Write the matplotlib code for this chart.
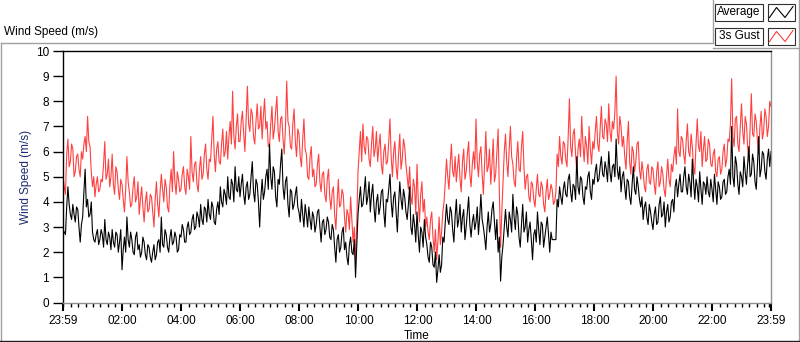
import numpy as np
import matplotlib
matplotlib.use('Agg')
import matplotlib.pyplot as plt
from matplotlib.lines import Line2D
from matplotlib.patches import Rectangle

#----------------------------------------------------------------------
#   Wind speed over one day, values every 2.5 minutes
#----------------------------------------------------------------------

minutes = np.arange(0, 1440.1, 2.5)   # minutes after 23:59

average = [
    2.9, 2.8, 2.7, 3.8, 4.6, 3.9, 3.5, 3.3, 3.9, 3.5, 3.2, 3.8, 3.7, 3.0, 2.4, 3.1, 3.4, 4.4, 5.3, 3.8, 4.1, 3.4, 3.5, 4.0,
    2.8, 2.5, 2.4, 2.7, 2.9, 2.3, 2.5, 2.9, 2.7, 2.2, 3.3, 2.5, 2.3, 2.8, 2.6, 2.1, 2.9, 2.4, 2.2, 2.8, 2.7, 2.0, 2.4, 2.9,
    1.3, 2.1, 2.6, 2.0, 3.4, 2.5, 2.2, 2.8, 2.5, 2.0, 1.9, 2.6, 2.8, 2.1, 2.3, 1.8, 2.0, 2.6, 2.4, 1.9, 1.7, 2.3, 2.2, 1.8,
    1.6, 2.0, 2.3, 1.7, 1.9, 2.4, 2.5, 2.0, 3.4, 2.3, 2.2, 2.9, 2.7, 2.2, 2.0, 2.6, 2.9, 2.3, 2.4, 2.8, 2.6, 2.0, 2.1, 2.7,
    2.6, 3.1, 2.9, 2.4, 2.4, 3.0, 3.2, 2.7, 2.8, 3.3, 3.5, 2.9, 3.0, 3.6, 3.4, 3.0, 3.9, 3.3, 3.1, 3.8, 3.7, 3.2, 4.1, 3.5,
    3.3, 4.0, 3.8, 3.2, 3.1, 3.7, 4.0, 3.5, 4.6, 4.0, 3.8, 4.5, 4.3, 3.9, 5.0, 4.2, 4.1, 4.9, 4.7, 4.0, 5.4, 4.5, 4.4, 5.0,
    4.2, 4.7, 5.1, 4.3, 3.9, 4.6, 4.8, 4.1, 4.3, 5.0, 5.6, 4.4, 4.0, 4.9, 4.7, 4.0, 3.0, 4.2, 4.9, 4.1, 4.4, 5.0, 5.3, 4.5,
    6.3, 5.0, 4.5, 5.4, 5.2, 4.2, 3.8, 4.9, 4.7, 5.5, 6.1, 4.6, 4.1, 4.8, 5.0, 3.9, 3.4, 4.5, 4.4, 3.7, 3.9, 4.3, 4.6, 3.8,
    3.6, 3.2, 4.1, 3.5, 3.0, 3.9, 3.5, 3.0, 3.8, 3.3, 2.9, 3.6, 3.4, 2.8, 3.1, 3.6, 3.7, 3.0, 2.4, 3.2, 3.3, 2.7, 2.9, 3.4,
    3.2, 2.6, 2.5, 3.1, 2.9, 2.2, 1.6, 2.5, 2.7, 2.0, 2.2, 2.8, 3.0, 2.1, 2.4, 1.8, 1.5, 2.3, 2.6, 2.0, 1.9, 2.5, 1.0, 2.2,
    3.5, 4.1, 4.6, 3.8, 3.9, 4.4, 5.0, 3.9, 4.2, 4.8, 3.6, 4.3, 4.7, 3.8, 3.2, 4.0, 4.3, 3.5, 3.8, 4.4, 4.5, 3.6, 3.0, 4.1,
    4.0, 4.5, 5.1, 4.0, 3.4, 4.2, 4.4, 3.6, 2.8, 3.9, 4.8, 4.1, 3.7, 4.5, 4.2, 3.6, 3.3, 3.9, 4.6, 3.0, 2.7, 3.5, 3.1, 2.4,
    3.6, 2.7, 2.0, 3.0, 2.8, 2.2, 3.3, 2.6, 2.3, 1.8, 1.6, 2.4, 2.2, 1.5, 1.4, 2.0, 0.8, 1.3, 1.9, 1.2, 1.5, 2.6, 2.4, 3.2,
    3.9, 3.3, 3.1, 3.8, 3.6, 2.9, 2.4, 3.4, 4.1, 3.0, 3.3, 3.9, 2.8, 3.4, 3.7, 2.5, 3.0, 3.6, 4.2, 3.1, 2.6, 3.2, 3.5, 2.9,
    3.2, 3.8, 2.7, 3.4, 4.3, 3.3, 3.0, 2.6, 2.1, 3.0, 3.6, 2.8, 3.1, 3.7, 4.0, 3.2, 2.5, 3.3, 2.0, 2.6, 0.85, 1.8, 2.3, 3.0,
    3.7, 3.0, 2.6, 3.6, 3.3, 2.8, 4.3, 3.4, 2.9, 3.8, 3.5, 2.6, 2.2, 3.1, 3.9, 2.8, 3.0, 3.6, 2.4, 2.9, 3.2, 2.5, 1.7, 2.7,
    2.9, 2.4, 3.6, 2.9, 2.3, 3.2, 3.1, 2.2, 2.6, 3.0, 3.4, 2.7, 2.0, 2.8, 2.5, 2.5, 2.5, 2.5, 4.1, 3.8, 4.6, 4.2, 3.9, 4.5,
    4.8, 4.3, 4.2, 4.9, 5.1, 4.4, 4.0, 4.7, 4.6, 4.1, 5.8, 4.6, 4.3, 5.0, 4.9, 4.2, 3.9, 4.6, 4.5, 5.0, 5.2, 4.4, 4.1, 4.9,
    4.7, 5.2, 5.5, 4.8, 4.9, 5.4, 5.8, 5.1, 5.0, 5.6, 5.3, 4.8, 6.0, 5.2, 4.8, 5.4, 5.5, 5.0, 6.5, 5.3, 4.9, 5.4, 4.4, 5.0,
    5.2, 4.6, 4.1, 4.9, 4.8, 4.2, 3.9, 4.7, 5.4, 4.5, 4.3, 5.0, 4.6, 4.1, 3.8, 4.2, 3.3, 3.8, 4.0, 3.4, 3.1, 3.9, 3.6, 3.2,
    2.9, 3.5, 3.8, 3.1, 3.2, 3.9, 4.2, 3.4, 3.5, 4.0, 3.0, 3.6, 3.9, 3.2, 3.4, 4.0, 4.1, 3.6, 4.6, 4.9, 4.2, 4.7, 5.1, 4.4,
    4.4, 5.0, 5.4, 4.6, 4.3, 5.1, 4.8, 4.2, 5.7, 4.8, 4.1, 4.9, 4.6, 4.0, 5.2, 4.5, 3.9, 4.8, 4.7, 4.3, 5.0, 4.4, 4.2, 4.9,
    4.5, 4.0, 5.1, 4.5, 3.9, 4.8, 4.6, 4.1, 4.2, 4.8, 4.9, 4.3, 4.4, 5.0, 5.3, 4.7, 7.0, 5.0, 4.6, 5.8, 5.5, 4.7, 4.3, 5.2,
    5.0, 4.6, 5.8, 5.2, 4.7, 5.5, 6.2, 5.0, 5.1, 5.9, 5.6, 4.8, 4.5, 5.5, 6.6, 5.0, 5.3, 6.0, 5.9, 5.2, 4.9, 5.7, 6.1, 5.4,
    6.0,
]

gust = [
    5.0, 4.6, 4.3, 5.9, 6.5, 5.4, 5.6, 6.3, 6.1, 5.0, 5.2, 5.8, 5.9, 5.3, 5.0, 6.0, 5.7, 6.3, 6.6, 6.0, 7.4, 6.4, 6.2, 5.2,
    4.6, 5.0, 4.2, 4.7, 5.0, 4.4, 4.5, 4.9, 4.8, 5.5, 6.4, 4.9, 5.1, 5.7, 4.6, 5.0, 5.9, 4.7, 4.3, 5.4, 5.2, 4.5, 4.1, 4.9,
    4.7, 4.1, 3.6, 4.5, 5.8, 4.8, 4.4, 3.8, 3.9, 4.6, 5.0, 4.0, 4.2, 4.8, 3.5, 4.1, 4.6, 3.8, 3.2, 4.0, 4.4, 3.6, 3.7, 4.3,
    4.2, 3.6, 3.0, 4.1, 4.8, 3.9, 3.4, 4.4, 5.1, 4.5, 4.0, 4.9, 4.6, 3.8, 3.6, 4.7, 5.3, 4.4, 6.0, 4.8, 4.3, 5.2, 4.9, 4.4,
    4.5, 5.1, 5.4, 4.6, 4.3, 5.3, 5.0, 4.5, 6.6, 5.2, 4.8, 5.5, 5.6, 4.7, 4.4, 5.3, 5.8, 4.9, 5.1, 5.9, 6.3, 5.3, 4.9, 5.7,
    5.6, 6.5, 7.4, 5.9, 5.2, 6.1, 6.4, 5.6, 5.5, 6.3, 6.9, 5.8, 6.0, 6.8, 5.7, 6.6, 7.2, 6.3, 8.4, 6.6, 6.1, 7.0, 7.5, 6.4,
    6.4, 7.2, 7.6, 6.7, 6.0, 7.3, 8.6, 7.1, 6.8, 7.7, 7.5, 6.6, 6.3, 7.2, 7.9, 6.9, 7.0, 7.8, 6.5, 7.4, 8.1, 6.9, 7.2, 6.2,
    6.2, 7.1, 7.8, 6.5, 6.9, 7.6, 8.2, 6.8, 6.4, 7.3, 7.4, 6.5, 5.9, 7.0, 8.8, 7.2, 7.0, 6.2, 6.1, 7.1, 7.7, 6.4, 5.8, 6.9,
    6.7, 5.8, 5.4, 6.5, 7.3, 6.1, 5.9, 5.0, 4.9, 5.8, 6.2, 5.0, 5.3, 4.6, 4.7, 5.5, 5.9, 4.8, 4.4, 5.1, 5.2, 4.3, 4.0, 4.9,
    5.3, 4.2, 3.7, 4.4, 4.6, 3.5, 2.9, 4.0, 4.9, 3.8, 3.9, 4.5, 4.3, 3.4, 2.8, 3.7, 3.5, 2.9, 4.2, 3.3, 2.4, 3.0, 1.7, 3.2,
    5.2, 6.0, 6.8, 5.6, 7.1, 6.2, 5.9, 6.6, 6.5, 5.7, 5.4, 6.3, 7.0, 5.8, 6.1, 6.8, 5.6, 6.2, 6.7, 5.5, 5.1, 6.0, 6.3, 5.5,
    5.6, 6.4, 7.3, 5.8, 5.0, 6.0, 6.4, 5.4, 4.9, 5.9, 6.7, 5.3, 5.7, 6.5, 6.2, 5.5, 5.0, 4.5, 5.4, 4.2, 3.9, 4.9, 4.6, 3.5,
    5.5, 4.1, 3.2, 4.3, 4.8, 3.6, 4.1, 3.0, 3.4, 2.8, 2.5, 3.3, 3.6, 2.6, 2.0, 2.9, 1.7, 2.4, 3.4, 2.3, 2.8, 3.6, 4.0, 4.8,
    5.7, 5.0, 4.5, 5.5, 6.3, 5.2, 5.0, 5.8, 4.8, 5.4, 5.9, 4.9, 4.4, 5.6, 6.1, 4.9, 5.2, 5.9, 6.4, 5.1, 4.6, 5.5, 6.0, 5.3,
    7.3, 5.6, 5.0, 5.9, 6.2, 5.1, 4.3, 5.6, 6.8, 5.2, 5.4, 6.1, 4.7, 5.5, 6.5, 4.8, 5.1, 6.0, 6.9, 4.4, 2.2, 3.6, 4.8, 6.0,
    6.7, 5.6, 5.0, 6.1, 7.0, 5.8, 5.5, 4.8, 4.6, 5.7, 6.4, 5.3, 5.2, 6.2, 6.8, 5.4, 4.5, 5.0, 5.1, 4.2, 4.0, 4.8, 4.7, 4.1,
    3.8, 4.5, 5.1, 4.3, 4.2, 4.8, 4.6, 3.9, 3.6, 4.4, 4.9, 4.1, 4.3, 4.7, 4.5, 3.9, 4.0, 4.4, 5.9, 5.4, 6.6, 5.8, 5.5, 6.4,
    6.3, 5.7, 5.4, 6.6, 8.1, 6.2, 5.8, 6.7, 6.9, 5.9, 5.2, 6.1, 6.5, 5.8, 7.4, 6.3, 5.6, 6.6, 6.2, 5.5, 7.0, 6.1, 5.5, 6.4,
    6.1, 6.8, 7.4, 6.3, 6.0, 6.9, 7.8, 6.6, 6.5, 7.3, 7.1, 6.4, 7.9, 6.8, 6.4, 7.2, 6.9, 7.6, 9.0, 6.8, 6.3, 7.4, 7.0, 6.2,
    6.6, 5.8, 5.3, 6.4, 7.2, 5.6, 5.1, 6.2, 6.0, 5.2, 5.6, 6.3, 6.4, 5.3, 4.9, 5.6, 5.2, 4.6, 4.4, 5.3, 5.5, 4.8, 4.7, 5.4,
    5.3, 4.7, 4.3, 5.2, 5.6, 4.6, 4.8, 5.4, 5.1, 4.5, 4.2, 5.0, 5.7, 4.9, 4.6, 5.5, 5.2, 5.8, 6.2, 5.5, 7.7, 6.0, 5.8, 6.6,
    6.5, 5.9, 5.5, 6.4, 7.1, 6.0, 5.8, 6.7, 6.2, 5.4, 5.1, 6.3, 7.3, 6.2, 6.0, 6.8, 5.4, 6.1, 6.6, 5.6, 5.7, 6.5, 6.3, 5.5,
    5.4, 5.9, 6.1, 5.2, 5.0, 5.7, 5.8, 5.1, 5.3, 6.0, 6.3, 5.4, 5.7, 6.5, 6.4, 7.1, 8.9, 6.6, 6.2, 7.3, 7.4, 6.3, 6.0, 7.0,
    7.9, 6.8, 6.3, 7.4, 7.1, 6.2, 5.6, 6.9, 8.3, 6.7, 6.6, 7.5, 7.2, 6.4, 5.9, 7.0, 7.6, 6.5, 6.8, 7.7, 7.4, 6.6, 7.0, 8.0,
    7.8,
]

tick_minutes = [0, 121, 241, 361, 481, 601, 721, 841, 961, 1081, 1201, 1321, 1440]
tick_labels = ['23:59', '02:00', '04:00', '06:00', '08:00', '10:00', '12:00',
               '14:00', '16:00', '18:00', '20:00', '22:00', '23:59']
y_ticks = list(range(0, 11))

W, H = 800, 342
plt.rcParams['font.family'] = ['Liberation Sans', 'DejaVu Sans']
plt.rcParams['font.size'] = 8.5

fig = plt.figure(figsize=(W / 100, H / 100), dpi=100)


def fx(x):
    return x / W


def fy(y):
    return 1 - y / H


def line(x0, y0, x1, y1, color='#a0a0a0', lw=1.0):
    fig.add_artist(Line2D([fx(x0), fx(x1)], [fy(y0), fy(y1)], color=color, lw=lw,
                          transform=fig.transFigure))


# outer frame
line(0.5, 42.5, 713, 42.5)
line(713, 0, 713, 42.5)
line(713, 47.5, 798.5, 47.5)
line(798.5, 0, 798.5, 341)
line(0.5, 42.5, 0.5, 341)
line(0, 340.5, 800, 340.5, color='#202020')

fig.text(fx(4), fy(32), 'Wind Speed (m/s)', ha='left', va='center', fontsize=8.5)

# legend
for row, (name, col) in enumerate([('Average', 'black'), ('3s Gust', '#ff3c3c')]):
    top = 3.5 + row * 24
    fig.add_artist(Rectangle((fx(715), fy(top + 17)), fx(48), 17 / H, transform=fig.transFigure,
                             facecolor='white', edgecolor='#303030', lw=0.8))
    fig.add_artist(Rectangle((fx(768), fy(top + 17)), fx(27), 17 / H, transform=fig.transFigure,
                             facecolor='white', edgecolor='#303030', lw=0.8))
    fig.text(fx(739), fy(top + 8.5), name, ha='center', va='center', fontsize=8.5)
    zx = [769.5, 776.5, 785, 793]
    zy = [top + 14, top + 4, top + 14, top + 3]
    fig.add_artist(Line2D([fx(v) for v in zx], [fy(v) for v in zy], color=col, lw=0.8,
                          transform=fig.transFigure))

# plot area
ax = fig.add_axes([fx(63), fy(302.5), fx(771 - 63), (302.5 - 51) / H])
ax.plot(minutes, gust, color='#ff4040', lw=0.8)
ax.plot(minutes, average, color='black', lw=0.8)

ax.set_xlim(0, 1440)
ax.set_ylim(0, 10)
ax.set_yticks(y_ticks)
ax.set_xticks(tick_minutes)
ax.set_xticklabels(tick_labels)
minor = [m for m in range(1, 1440, 15) if m not in tick_minutes] + [1436]
ax.set_xticks(minor, minor=True)

ax.spines['left'].set_color('black')
ax.spines['top'].set_color('black')
ax.spines['bottom'].set_color('#909090')
ax.spines['right'].set_color('#909090')
for s in ax.spines.values():
    s.set_linewidth(1.0)

ax.tick_params(axis='y', length=7, width=1, pad=3, labelsize=8.5, colors='black')
ax.tick_params(axis='x', which='major', length=6, width=1.5, pad=3, labelsize=8.5, color='black')
ax.tick_params(axis='x', which='minor', length=3, width=1, color='black')

ax.set_ylabel('Wind Speed (m/s)', color='#1c2a6e', fontsize=8.5, labelpad=3)
ax.set_xlabel('Time', fontsize=8.5, labelpad=2)

fig.savefig('out.png', dpi=100)
